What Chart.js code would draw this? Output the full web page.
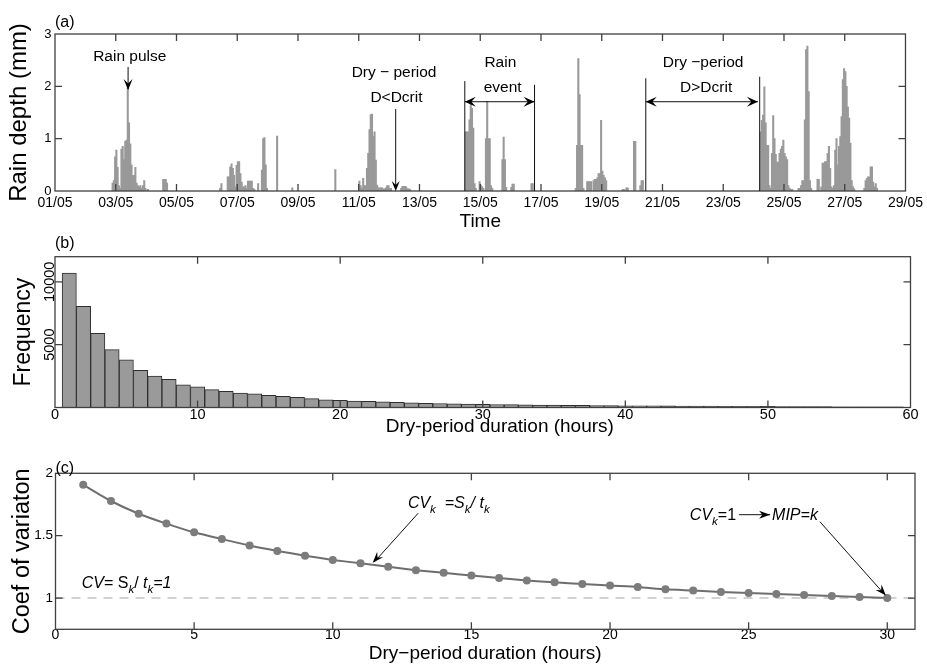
<!DOCTYPE html>
<html><head><meta charset="utf-8">
<script src="https://cdn.jsdelivr.net/npm/chart.js@4.4.1/dist/chart.umd.min.js"></script>
<style>
html,body{margin:0;padding:0;background:#fff;}
#wrap{position:relative;width:927px;height:666px;overflow:hidden;}
canvas{position:absolute;left:0;}
</style></head><body>
<div id="wrap">
<canvas id="ca" width="927" height="235" style="top:0"></canvas>
<canvas id="cb" width="927" height="205" style="top:235px"></canvas>
<canvas id="cc" width="927" height="226" style="top:440px"></canvas>
</div>
<script>
// ---------------- DATA ----------------
// (a) hourly rain depth (mm); hour 0 = 01/05 00:00; each storm listed as consecutive hours
const dateTickHours  = [0,48,96,144,192,240,288,336,384,432,480,528,576,624,672];
const dateTickLabels = ['01/05','03/05','05/05','07/05','09/05','11/05','13/05','15/05','17/05','19/05','21/05','23/05','25/05','27/05','29/05'];
const rainAxisMax = 3;
const rainYTicks = [0,1,2,3];
const stormStartHour = [45, 85, 130, 175, 187, 221, 240, 273, 324, 353, 360, 376, 411, 448, 457, 462, 557, 639];
const stormDepths = [
  [0.15,0.2,0.65,0.78,0.45,0.1,0.05,0.8,0.85,0.6,0.95,0.97,1.97,1.3,0.9,0.5,0.3,0.3,0.45,0.15,0.1,0.08,0.1,0.05,0.1,0.2,0.05,0,0.03],
  [0.22,0.22,0.22,0.15],
  [0.05,0.14,0,0,0,0,0.27,0.27,0.46,0.52,0.43,0.3,0.08,0.49,0.56,0.56,0.33,0.17,0.08,0.08,0.1,0.05,0.19,0.19,0.19,0.19,0.05,0.03,0,0,0.14,0,0,0.4,1.0,1.02,0.5,0.05],
  [1.05],
  [0.06],
  [0.41],
  [0.19,0.1,0.05,0.24,0.1,0.1,0.43,0.72,1.17,1.46,1.47,1.04,1.13,0.59,0.11,0.06,0.06,0.06,0.06,0.04,0.04,0.06,0.1,0.1,0.05,0.05],
  [0.05,0.09,0.09,0.09,0.08,0.04,0.04,0.03],
  [1.13,1.13,1.13,1.36,1.68,1.58,1.2,0.14,0.05,0,0,0.18,0.11,0.08,0.05,0,1.0,1.71,1.0,1.0,0.1,0.05],
  [0.6,1.03,0.6,0.07],
  [0.07,0.13,0.13],
  [0.14,0.14],
  [0.05,0.87,2.53,1.84,0.87,0.87,0.05,0,0,0.18,0.18,0.18,0.18,0,0.2,0.22,0.22,0.25,0.33,0.33,1.35,0.38,0.3,0.25,0.2],
  [0.03,0.03,0,0.06,0.06],
  [0.95,0.95],
  [0.1,0.2,0.2],
  [1.13,1.35,1.45,1.99,1.3,0.87,0.87,0.1,0.05,0.72,1.44,1.0,0.7,0.55,0.55,0.72,0.8,0.85,0.97,0.72,0.65,0.6,0.1,0.05,0.03,0.03,0,0,0,0,0.05,0.05,0.1,0.2,0.2,1.36,2.7,2.77,1.9,0.2,0.05,0,0,0,0,0.22,0.22,0,0.08,0.53,0.53,0.56,0.56,0.72,0.85,0.43,0.08,0.05,0.1,0.78,1.0,0.5,0.85,1.04,1.42,2.13,2.34,2.28,2.0,1.6,1.39,0.91,0.2,0.08,0.04],
  [0.05,0.2,0.24,0.27,0.27,0.46,0.46,0.17,0.08,0.14,0.05]
];

// (b) histogram of dry-period durations (1-hour bins)
const durationBins = [1,2,3,4,5,6,7,8,9,10,11,12,13,14,15,16,17,18,19,20,21,22,23,24,25,26,27,28,29,30,31,32,33,34,35,36,37,38,39,40,41,42,43,44,45,46,47,48,49,50,51,52,53,54,55,56,57,58,59];
const dryFrequency = [10700,8050,5900,4600,3800,2950,2500,2250,1800,1650,1420,1280,1150,1080,960,880,800,700,620,580,520,490,450,420,380,330,320,300,280,260,240,230,210,200,190,180,170,160,150,140,135,130,125,115,110,105,100,95,90,85,80,75,70,65,60,58,55,52,50];
const histXTicks = [0,10,20,30,40,50,60];
const histYTicks = [5000,10000];

// (c) coefficient of variation vs dry-period duration k
const cvK = [1,2,3,4,5,6,7,8,9,10,11,12,13,14,15,16,17,18,19,20,21,22,23,24,25,26,27,28,29,30];
const cvValues = [1.908,1.778,1.676,1.597,1.527,1.473,1.421,1.378,1.340,1.306,1.279,1.251,1.224,1.203,1.181,1.162,1.141,1.127,1.113,1.100,1.089,1.070,1.060,1.049,1.041,1.032,1.024,1.016,1.008,1.000];
const cvThreshold = 1;
const cvXTicks = [0,5,10,15,20,25,30];
const cvYTicks = [1,1.5,2];

// ---------------- BUILD ----------------
const rainPoints = [];
stormStartHour.forEach((h0, s) => stormDepths[s].forEach((d, i) => { if (d > 0) rainPoints.push({x: h0 + i + 0.5, y: d}); }));
const histPoints = durationBins.map((b, i) => ({x: b, y: dryFrequency[i]}));
const cvPoints = cvK.map((k, i) => ({x: k, y: cvValues[i]}));

const FAM = '"Liberation Sans", Arial, Helvetica, sans-serif';
Chart.defaults.font.family = FAM;
Chart.defaults.color = '#000';

function setTicks(arr){ return s => { s.ticks = arr.map(v => ({value: v})); }; }
const plain = v => String(v);

const frame = {
  id: 'frame',
  afterDraw(chart){
    const {ctx, chartArea: a, scales: {x, y}} = chart;
    const L = 7;
    ctx.save();
    ctx.strokeStyle = '#404040';
    ctx.lineWidth = 1.3;
    ctx.beginPath();
    x.ticks.forEach(t => {
      const p = x.getPixelForValue(t.value);
      if (p <= a.left + 1 || p >= a.right - 1) return;
      ctx.moveTo(p, a.top); ctx.lineTo(p, a.top + L);
      ctx.moveTo(p, a.bottom); ctx.lineTo(p, a.bottom - L);
    });
    y.ticks.forEach(t => {
      const p = y.getPixelForValue(t.value);
      if (p <= a.top + 1 || p >= a.bottom - 1) return;
      ctx.moveTo(a.left, p); ctx.lineTo(a.left + L, p);
      ctx.moveTo(a.right, p); ctx.lineTo(a.right - L, p);
    });
    ctx.stroke();
    ctx.strokeRect(a.left, a.top, a.right - a.left, a.bottom - a.top);
    ctx.restore();
  }
};

function head(ctx, x1, y1, x2, y2, len, half, notch){
  const ang = Math.atan2(y2 - y1, x2 - x1), c = Math.cos(ang), s = Math.sin(ang);
  const bx = x2 - len * c, by = y2 - len * s;
  const nx = x2 - len * notch * c, ny = y2 - len * notch * s;
  ctx.beginPath();
  ctx.moveTo(x2, y2);
  ctx.lineTo(bx - half * s, by + half * c);
  ctx.lineTo(nx, ny);
  ctx.lineTo(bx + half * s, by - half * c);
  ctx.closePath();
  ctx.fill();
}
function line(ctx, x1, y1, x2, y2){ ctx.beginPath(); ctx.moveTo(x1, y1); ctx.lineTo(x2, y2); ctx.stroke(); }

const annA = {
  id: 'annA',
  afterDraw(chart){
    const {ctx, scales: {x, y}} = chart;
    const X = v => x.getPixelForValue(v), Y = v => y.getPixelForValue(v);
    ctx.save();
    ctx.fillStyle = '#000'; ctx.strokeStyle = '#111'; ctx.lineWidth = 1;
    ctx.textBaseline = 'middle';
    ctx.font = '16px ' + FAM; ctx.textAlign = 'left';
    ctx.fillText('(a)', chart.chartArea.left, 23);
    ctx.font = '15.5px ' + FAM; ctx.textAlign = 'center';
    // rain pulse
    ctx.fillText('Rain pulse', X(59.1), Y(2.57));
    line(ctx, X(57.75), Y(2.37), X(57.75), Y(1.95));
    head(ctx, X(57.75), Y(2.37), X(57.75), Y(1.93), 11, 4.5, 0.6);
    // dry period < Dcrit
    ctx.fillText('Dry \u2212 period', X(267.9), Y(2.255));
    ctx.fillText('D<Dcrit', X(269.8), Y(1.777));
    line(ctx, X(269.2), Y(1.567), X(269.2), Y(0.03));
    head(ctx, X(269.2), Y(1.567), X(269.2), Y(0.0), 10, 4, 0.6);
    // rain event
    ctx.fillText('Rain', X(351.9), Y(2.446));
    ctx.fillText('event', X(353.7), Y(1.968));
    line(ctx, X(323.8), Y(2.10), X(323.8), Y(0));
    line(ctx, X(378.9), Y(2.03), X(378.9), Y(0));
    line(ctx, X(323.8), Y(1.706), X(378.9), Y(1.706));
    head(ctx, X(378.9), Y(1.706), X(323.8), Y(1.706), 11, 5, 0.6);
    head(ctx, X(323.8), Y(1.706), X(378.9), Y(1.706), 11, 5, 0.6);
    // dry period > Dcrit
    ctx.fillText('Dry \u2212period', X(512.1), Y(2.446));
    ctx.fillText('D>Dcrit', X(514.5), Y(1.968));
    line(ctx, X(466.8), Y(2.154), X(466.8), Y(0));
    line(ctx, X(556.8), Y(2.184), X(556.8), Y(0));
    line(ctx, X(466.8), Y(1.706), X(555.4), Y(1.706));
    head(ctx, X(555.4), Y(1.706), X(466.8), Y(1.706), 11, 5, 0.6);
    head(ctx, X(466.8), Y(1.706), X(555.4), Y(1.706), 11, 5, 0.6);
    ctx.restore();
  }
};

const annB = {
  id: 'annB',
  afterDraw(chart){
    const {ctx, chartArea: a, scales: {x}} = chart;
    ctx.save();
    ctx.fillStyle = '#000';
    ctx.font = '16px ' + FAM; ctx.textAlign = 'left'; ctx.textBaseline = 'middle';
    ctx.fillText('(b)', a.left, 8.5);
    ctx.font = '19px ' + FAM; ctx.textAlign = 'center';
    ctx.fillText('Dry-period duration (hours)', x.getPixelForValue(31.2), a.bottom + 19.5);
    ctx.restore();
  }
};

function rich(ctx, x, y, parts, size){
  let cx = x;
  parts.forEach(p => {
    if (p.arrow){
      const yy = y - size * 0.33;
      line(ctx, cx + 3, yy, cx + p.arrow - 2, yy);
      head(ctx, cx + 3, yy, cx + p.arrow - 2, yy, 11, 4, 0.7);
      cx += p.arrow; return;
    }
    const fs = p.sub ? size * 0.72 : size;
    ctx.font = (p.it ? 'italic ' : '') + fs + 'px ' + FAM;
    ctx.fillText(p.t, cx, y + (p.sub ? size * 0.3 : 0));
    cx += ctx.measureText(p.t).width;
  });
}

const annC = {
  id: 'annC',
  beforeDatasetsDraw(chart){
    const {ctx, chartArea: a, scales: {y}} = chart;
    const py = y.getPixelForValue(cvThreshold);
    ctx.save();
    ctx.strokeStyle = '#c4c4c4'; ctx.lineWidth = 1.5; ctx.setLineDash([9, 7]);
    line(ctx, a.left, py, a.right, py);
    ctx.restore();
  },
  afterDraw(chart){
    const {ctx, chartArea: a, scales: {x, y}} = chart;
    const X = v => x.getPixelForValue(v), Y = v => y.getPixelForValue(v);
    ctx.save();
    ctx.fillStyle = '#000'; ctx.strokeStyle = '#111'; ctx.lineWidth = 1;
    ctx.font = '16px ' + FAM; ctx.textAlign = 'left'; ctx.textBaseline = 'middle';
    ctx.fillText('(c)', a.left, 29);
    ctx.textBaseline = 'alphabetic';
    rich(ctx, X(12.71), Y(1.72), [
      {t:'CV', it:true}, {t:'k', it:true, sub:true}, {t:'  =S', it:true}, {t:'k', it:true, sub:true},
      {t:'/ t', it:true}, {t:'k', it:true, sub:true}], 16);
    rich(ctx, X(0.945), Y(1.079), [
      {t:'CV', it:true}, {t:'= S'}, {t:'k', it:true, sub:true}, {t:'/ '}, {t:'t', it:true},
      {t:'k', it:true, sub:true}, {t:'=1', it:true}], 16);
    rich(ctx, X(22.88), Y(1.626), [
      {t:'CV', it:true}, {t:'k', it:true, sub:true}, {t:'=1'}, {arrow:36}, {t:'MIP=k', it:true}], 16);
    line(ctx, X(13.08), Y(1.68), X(11.5), Y(1.29));
    head(ctx, X(13.08), Y(1.68), X(11.44), Y(1.284), 11, 4, 0.65);
    line(ctx, X(27.57), Y(1.612), X(29.9), Y(1.03));
    head(ctx, X(27.57), Y(1.612), X(29.95), Y(1.021), 11, 4, 0.65);
    ctx.restore();
  }
};

const common = {
  responsive: false, animation: false, events: [],
  plugins: {legend: {display: false}, tooltip: {enabled: false}}
};

// ---------------- (a) ----------------
new Chart(document.getElementById('ca'), {
  type: 'bar',
  data: {datasets: [{data: rainPoints, backgroundColor: '#999999', borderWidth: 0, inflateAmount: 0.4, barPercentage: 1, categoryPercentage: 1}]},
  options: Object.assign({}, common, {
    layout: {padding: {left: 0, top: 34, right: 19, bottom: 0}},
    scales: {
      x: {type: 'linear', min: 0, max: 672, offset: false,
          grid: {display: false, drawTicks: false}, border: {display: false},
          afterBuildTicks: setTicks(dateTickHours),
          ticks: {callback: (v, i) => dateTickLabels[i], padding: 4, maxRotation: 0, minRotation: 0, autoSkip: false, font: {size: 14}},
          title: {display: true, text: 'Time', font: {size: 19}, padding: {top: 0, bottom: 1.6}},
          afterFit: s => { s.height = 44; }},
      y: {min: 0, max: rainAxisMax,
          grid: {display: false, drawTicks: false}, border: {display: false},
          afterBuildTicks: setTicks(rainYTicks),
          ticks: {callback: plain, padding: 3.5, font: {size: 13}},
          title: {display: true, text: 'Rain depth (mm)', font: {size: 24}, padding: {top: 4.6, bottom: 0}},
          afterFit: s => { s.width = 55; }}
    }
  }),
  plugins: [frame, annA]
});

// ---------------- (b) ----------------
new Chart(document.getElementById('cb'), {
  type: 'bar',
  data: {datasets: [{data: histPoints, backgroundColor: '#9a9a9a', borderColor: '#2e2e2e', borderWidth: 1, borderSkipped: 'start', barPercentage: 1, categoryPercentage: 1}]},
  options: Object.assign({}, common, {
    layout: {padding: {left: 0, top: 21.7, right: 16.5, bottom: 0}},
    scales: {
      x: {type: 'linear', min: 0, max: 60, offset: false,
          grid: {display: false, drawTicks: false}, border: {display: false},
          afterBuildTicks: setTicks(histXTicks),
          ticks: {callback: plain, padding: -1, maxRotation: 0, minRotation: 0, autoSkip: false, font: {size: 14.5}},
          title: {display: false},
          afterFit: s => { s.height = 32.5; }},
      y: {min: 0, max: 12000,
          grid: {display: false, drawTicks: false}, border: {display: false},
          afterBuildTicks: setTicks(histYTicks),
          ticks: {callback: plain, minRotation: 90, maxRotation: 90, crossAlign: 'center', padding: -15, font: {size: 14.5}},
          title: {display: true, text: 'Frequency', font: {size: 23}, padding: {top: 9.5, bottom: 0}},
          afterFit: s => { s.width = 55; }}
    }
  }),
  plugins: [frame, annB]
});

// ---------------- (c) ----------------
new Chart(document.getElementById('cc'), {
  type: 'line',
  data: {datasets: [{data: cvPoints, borderColor: '#6e6e6e', borderWidth: 2, pointRadius: 4, pointBackgroundColor: '#7c7c7c', pointBorderWidth: 0, tension: 0.2, fill: false}]},
  options: Object.assign({}, common, {
    layout: {padding: {left: 0, top: 33.3, right: 12, bottom: 0}},
    scales: {
      x: {type: 'linear', min: 0, max: 31,
          grid: {display: false, drawTicks: false}, border: {display: false},
          afterBuildTicks: setTicks(cvXTicks),
          ticks: {callback: plain, padding: -3, maxRotation: 0, minRotation: 0, autoSkip: false, font: {size: 14}},
          title: {display: true, text: 'Dry\u2212period duration (hours)', font: {size: 19}, padding: {top: 0, bottom: 0.6}},
          afterFit: s => { s.height = 36.7; }},
      y: {min: 0.75, max: 2,
          grid: {display: false, drawTicks: false}, border: {display: false},
          afterBuildTicks: setTicks(cvYTicks),
          ticks: {callback: plain, padding: 2.5, font: {size: 13.5}},
          title: {display: true, text: 'Coef of variaton', font: {size: 23.5}, padding: {top: 8.4, bottom: 0}},
          afterFit: s => { s.width = 55.5; }}
    }
  }),
  plugins: [frame, annC]
});
</script>
</body></html>
